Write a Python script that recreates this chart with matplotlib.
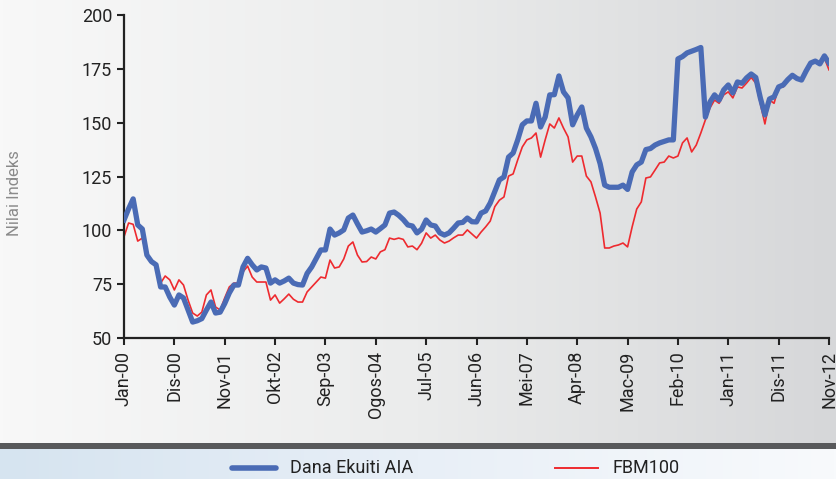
import matplotlib
matplotlib.use('Agg')
import matplotlib.pyplot as plt
import numpy as np
from matplotlib.colors import LinearSegmentedColormap
from matplotlib.lines import Line2D

# Data: monthly index values, Jan-2000 .. Nov-2012
tick_labels = ['Jan-00', 'Dis-00', 'Nov-01', 'Okt-02', 'Sep-03', 'Ogos-04', 'Jul-05',
               'Jun-06', 'Mei-07', 'Apr-08', 'Mac-09', 'Feb-10', 'Jan-11', 'Dis-11', 'Nov-12']

dana_ekuiti = [
    104.8, 110, 114.6, 102.5, 100.6, 88.5, 85.5, 84, 73.7, 73.7,
    69, 65.3, 70, 68.6, 63, 57.4, 58, 59, 63, 66.7,
    61.6, 62, 66, 70.9, 74.6, 74.6, 83, 87, 84, 81.6,
    83, 82.5, 75.5, 77, 75.5, 76.5, 77.8, 75.5, 74.8, 74.6,
    80, 83, 87, 90.9, 90.9, 100.6, 97.8, 98.8, 100.2, 105.7,
    107.1, 103, 99.2, 99.8, 100.6, 99.2, 100.8, 102.5, 108, 108.5,
    107, 105, 102.5, 102, 98.8, 100.5, 104.8, 102.5, 102, 98.8,
    97.8, 98.8, 101, 103.4, 103.7, 105.7, 104, 103.9, 108, 109,
    112.7, 118, 123.4, 124.8, 134, 135.9, 142, 149, 150.8, 150.8,
    159, 148, 152.6, 162.9, 163, 171.7, 164.3, 161.5, 149, 153.6,
    157.3, 147.5, 143.4, 138, 131, 121, 120, 120, 120, 121,
    119, 127.1, 130.4, 131.7, 137.5, 138, 139.6, 140.6, 141.3, 142,
    142, 179.6, 180.7, 182.4, 183.2, 184, 184.9, 152.6, 159.6, 162.9,
    160.5, 165.2, 167.5, 163.8, 168.9, 168.3, 170.8, 172.6, 171, 161.5,
    153.6, 161, 162, 166.6, 167.5, 170, 172, 170.5, 169.8, 174,
    177.7, 178.6, 177.3, 181, 177.7,
]

fbm100 = [
    97, 103.4, 102.8, 95, 96.4, 87.6, 84.8, 84, 75.5, 78.8,
    77, 72.3, 77, 74.6, 67.6, 61.6, 60.2, 62, 70, 72.3,
    64.4, 63, 68.6, 73.7, 75.5, 75.5, 80.7, 83.4, 78.3, 76,
    76, 76, 67.6, 70, 66.2, 68.2, 70.4, 68, 66.7, 66.7,
    71.4, 73.7, 76, 78.3, 77.8, 86.2, 82.5, 83, 86.7, 92.7,
    94.6, 88.5, 85.3, 85.5, 87.6, 86.7, 90, 91, 96.4, 95.8,
    96.4, 95.8, 92.3, 92.7, 91, 94, 98.8, 96.4, 97.8, 95.5,
    94.1, 95, 96.5, 97.8, 97.8, 100.2, 98.3, 96.4, 99.2, 101.6,
    104.3, 111, 114, 115.5, 125.2, 126.2, 132.7, 138.7, 142, 142.9,
    145.2, 134, 142, 149.4, 147.5, 152.2, 147.5, 143.4, 131.7, 134.5,
    134.5, 125.2, 122.5, 115.5, 108, 91.8, 91.8, 92.7, 93.2, 94.1,
    92.3, 101.6, 109.9, 113.2, 124.3, 124.8, 128, 131.3, 131.7, 134.5,
    133.6, 134.5, 140.6, 142.9, 136.4, 139.6, 145.2, 151.3, 156.8, 160.5,
    159, 162.9, 164.3, 161.5, 166.6, 166.1, 168.4, 171, 168.4, 159,
    149.4, 160.5, 159, 166.6, 166.6, 170, 172.6, 170.8, 170.8, 174.5,
    177.7, 178.2, 176.8, 180, 174.5,
]

plt.rcParams['font.family'] = ['Roboto', 'DejaVu Sans']

W, H = 837, 479
fig = plt.figure(figsize=(W / 100, H / 100), dpi=100)

# Background: grey gradient on top, dark bar, blue legend band below
bg = fig.add_axes([0, 0, 1, 1], zorder=-10)
bg.set_axis_off()
top_cmap = LinearSegmentedColormap.from_list('top', ['#f8f8f8', '#ebecec', '#d6d7d9'])
leg_cmap = LinearSegmentedColormap.from_list('leg', ['#d6e4f0', '#e8eff7', '#f8fafc'])
grad = np.linspace(0, 1, 256).reshape(1, -1)
bg.imshow(grad, cmap=top_cmap, aspect='auto', extent=[0, W, H - 443, H])
bg.imshow(grad, cmap=leg_cmap, aspect='auto', extent=[0, W, 0, H - 449])
bg.fill_between([0, W], H - 449, H - 443, color='#58595b', lw=0)
bg.set_xlim(0, W)
bg.set_ylim(0, H)

# Main chart
ax = fig.add_axes([124 / W, (H - 338) / H, (829 - 124) / W, (338 - 15) / H])
ax.patch.set_alpha(0)
x = np.arange(len(dana_ekuiti))
ax.plot(x, fbm100, color='#ee2a2f', lw=1.2, label='FBM100', zorder=2)
ax.plot(x, dana_ekuiti, color='#4a6bb5', lw=3.8, label='Dana Ekuiti AIA', zorder=3,
        solid_joinstyle='round')

ax.set_xlim(0, len(dana_ekuiti) - 1)
ax.set_ylim(50, 200)
ax.set_yticks([50, 75, 100, 125, 150, 175, 200])
ax.set_xticks(np.arange(0, len(dana_ekuiti), 11))
ax.set_xticklabels(tick_labels, rotation=90)
ax.tick_params(axis='both', labelsize=13, colors='#222222', length=5, width=1.5,
               direction='out')
ax.tick_params(axis='x', pad=4)
for s in ['top', 'right']:
    ax.spines[s].set_visible(False)
for s in ['left', 'bottom']:
    ax.spines[s].set_color('#222222')
    ax.spines[s].set_linewidth(1.6)

fig.text(15 / W, (H - 193) / H, 'Nilai Indeks', rotation=90, va='center', ha='center',
         fontsize=12, color='#8a8a8a')

# Legend in the bottom band
bg.add_line(Line2D([232, 276], [H - 468, H - 468], color='#4a6bb5', lw=4,
                   solid_capstyle='round'))
bg.text(290, H - 468, 'Dana Ekuiti AIA', fontsize=13, va='center', ha='left', color='#222222')
bg.add_line(Line2D([555, 598], [H - 468, H - 468], color='#ee2a2f', lw=1.4))
bg.text(613, H - 468, 'FBM100', fontsize=13, va='center', ha='left', color='#222222')

fig.savefig('out.png', dpi=100)
